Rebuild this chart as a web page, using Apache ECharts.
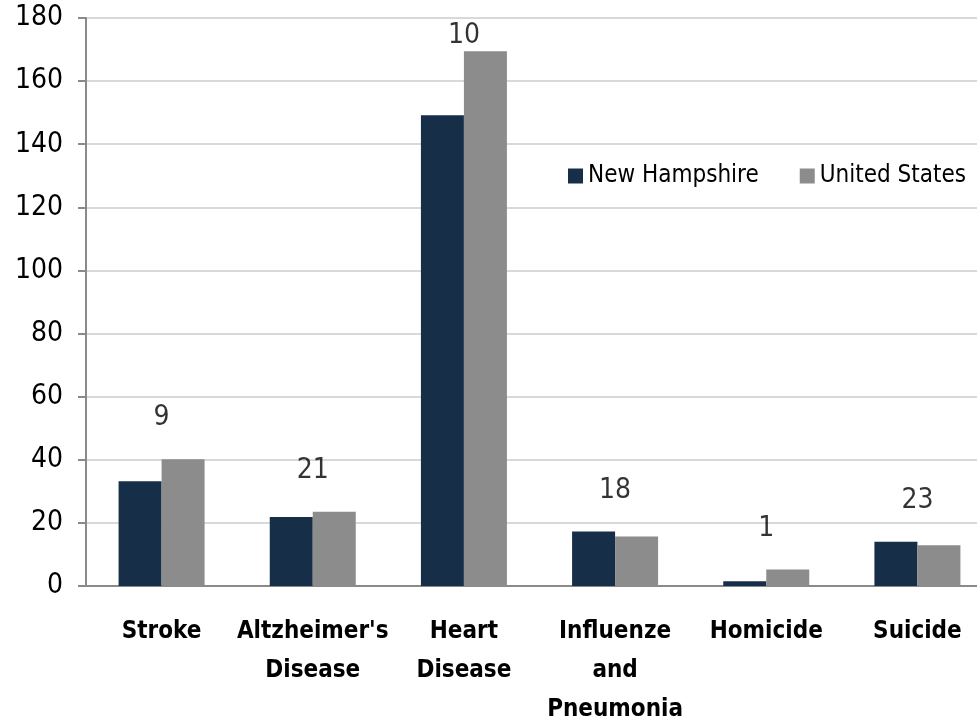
<!DOCTYPE html>
<html>
<head>
<meta charset="utf-8">
<title>Death rates: New Hampshire vs United States</title>
<script src="https://cdn.jsdelivr.net/npm/echarts@6/dist/echarts.min.js"></script>
<style>
  html, body { margin: 0; padding: 0; background: #ffffff; overflow: hidden; }
  #chart { width: 977px; height: 721px; }
</style>
</head>
<body>
<div id="chart"></div>
<script>
// Causes of death, age-adjusted rates per 100,000
const categories = ['Stroke', "Altzheimer's\nDisease", 'Heart\nDisease', 'Influenze\nand\nPneumonia', 'Homicide', 'Suicide'];
const newHampshire = [33.2, 21.9, 149.2, 17.3, 1.5, 14.0];
const unitedStates = [40.2, 23.5, 169.5, 15.7, 5.2, 12.9];
// State ranking shown above each group
const stateRank = [9, 21, 10, 18, 1, 23];
const yTicks = { min: 0, max: 180, interval: 20 };

const FONT = '"Liberation Sans Narrow", "Arial Narrow", "DejaVu Sans Condensed", sans-serif';
const NAVY = '#172e48';
const GREY = '#8c8c8c';

// Rank labels sit a little above the taller bar of each group, kept inside the plot top
const rankPoints = stateRank.map((r, i) => ({
  value: [i, Math.min(Math.max(newHampshire[i], unitedStates[i]) + 13, 174.5)],
  rank: r
}));

const chart = echarts.init(document.getElementById('chart'), null, { renderer: 'canvas' });
chart.setOption({
  backgroundColor: '#ffffff',
  animation: false,
  textStyle: { fontFamily: FONT },
  // the plot area runs slightly past the right edge of the canvas
  grid: { left: 86, top: 18, width: 907, bottom: 135, containLabel: false, outerBoundsMode: 'none' },
  legend: {
    data: ['New Hampshire', 'United States'],
    orient: 'horizontal',
    left: 568,
    top: 164,
    padding: 0,
    width: 420,
    itemWidth: 15,
    itemHeight: 15,
    itemGap: 41,
    icon: 'rect',
    textStyle: { fontFamily: FONT, fontSize: 24, color: '#000000' }
  },
  xAxis: {
    type: 'category',
    data: categories,
    axisLine: { show: true, lineStyle: { color: '#8a8a8a', width: 2 } },
    axisTick: { show: false },
    axisLabel: {
      interval: 0,
      margin: 26,
      fontFamily: FONT,
      fontSize: 24,
      fontWeight: 'bold',
      color: '#000000',
      lineHeight: 39
    },
    splitLine: { show: false }
  },
  yAxis: {
    type: 'value',
    min: yTicks.min,
    max: yTicks.max,
    interval: yTicks.interval,
    axisLine: { show: true, lineStyle: { color: '#8a8a8a', width: 2 } },
    axisTick: { show: true, length: 8, lineStyle: { color: '#8a8a8a', width: 2 } },
    axisLabel: { margin: 23, fontFamily: FONT, fontSize: 28, color: '#000000' },
    splitLine: { show: true, lineStyle: { color: '#d9d9d9', width: 2 } }
  },
  series: [
    {
      name: 'New Hampshire',
      type: 'bar',
      data: newHampshire,
      barWidth: 43,
      barGap: '0%',
      itemStyle: { color: NAVY }
    },
    {
      name: 'United States',
      type: 'bar',
      data: unitedStates,
      barWidth: 43,
      barGap: '0%',
      itemStyle: { color: GREY }
    },
    {
      name: 'rank',
      type: 'scatter',
      data: rankPoints,
      symbolSize: 0,
      silent: true,
      label: {
        show: true,
        position: 'inside',
        formatter: p => String(p.data.rank),
        fontFamily: FONT,
        fontSize: 28,
        color: '#000000'
      },
      z: 5
    }
  ]
});
</script>
</body>
</html>
